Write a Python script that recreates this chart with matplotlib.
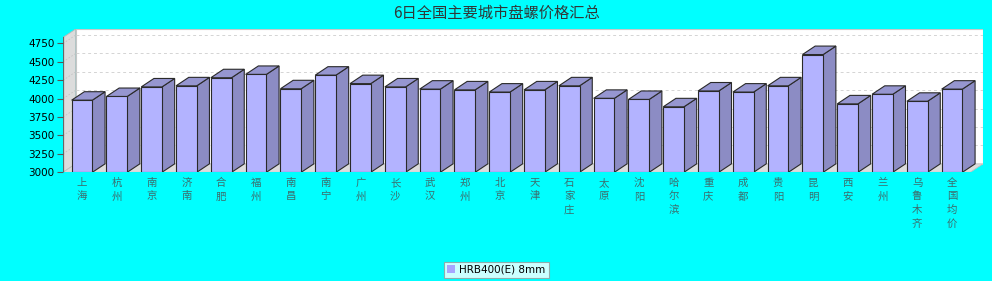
import matplotlib
matplotlib.use("Agg")
import matplotlib.pyplot as plt
import matplotlib.patches as mpatches

plt.rcParams['font.family'] = ['Noto Sans CJK SC', 'DejaVu Sans']

cities = ["上海", "杭州", "南京", "济南", "合肥", "福州", "南昌", "南宁", "广州", "长沙",
          "武汉", "郑州", "北京", "天津", "石家庄", "太原", "沈阳", "哈尔滨", "重庆", "成都",
          "贵阳", "昆明", "西安", "兰州", "乌鲁木齐", "全国均价"]
prices = [3980, 4030, 4160, 4175, 4285, 4330, 4135, 4320, 4205, 4160,
          4130, 4120, 4090, 4120, 4175, 4005, 3990, 3890, 4105, 4090,
          4175, 4600, 3930, 4060, 3965, 4130]
yticks = list(range(3000, 4751, 250))
series_name = "HRB400(E) 8mm"
title = "6日全国主要城市盘螺价格汇总"

W, H = 992, 282
fig = plt.figure(figsize=(W / 100, H / 100), dpi=100, facecolor="#00ffff")

# axes box in pixels (front-left corner to back-right-top)
left_px, right_px, bottom_px, top_px = 63, 983, 172.3, 29
ax = fig.add_axes([left_px / W, 1 - bottom_px / H, (right_px - left_px) / W, (bottom_px - top_px) / H])
ax.patch.set_visible(False)
for s in ax.spines.values():
    s.set_visible(False)

x0, x1 = -0.546, 25.89
y0, y1 = 3000, 4947
dx, dy = 0.365, 115  # 3d depth in data units
ax.set_xlim(x0, x1)
ax.set_ylim(y0, y1)

wall_c = "#dcdcdc"
# back wall
ax.add_patch(mpatches.Rectangle((x0 + dx, y0 + dy), x1 - x0 - dx, y1 - y0 - dy,
                                facecolor="white", edgecolor="#c8c8c8", lw=0.8, zorder=0))
# left wall
ax.add_patch(mpatches.Polygon([(x0, y0), (x0 + dx, y0 + dy), (x0 + dx, y1), (x0, y1 - dy)],
                              closed=True, facecolor=wall_c, edgecolor="#b8b8b8", lw=0.6, zorder=0))
# floor
ax.add_patch(mpatches.Polygon([(x0, y0), (x1 - dx, y0), (x1, y0 + dy), (x0 + dx, y0 + dy)],
                              closed=True, facecolor=wall_c, edgecolor="#c0c0c0", lw=0.6, zorder=0))
for v in yticks[1:]:
    ax.plot([x0 + dx, x1], [v + dy, v + dy], ls=(0, (3, 3)), color="#d4d4d4", lw=0.7, zorder=1)
    ax.plot([x0, x0 + dx], [v, v + dy], ls=(0, (2, 2)), color="#c4c4c4", lw=0.6, zorder=1)
ax.plot([x0, x0], [y0, y1 - dy], color="#666666", lw=0.9, zorder=1)

bw = 0.595
front_c, top_c, side_c, edge_c = "#b3b3ff", "#9696d0", "#8c8cc4", "#2a2a2a"
for i, v in enumerate(prices):
    xl, xr = i - bw / 2, i + bw / 2
    side = [(xr, y0), (xr + dx, y0 + dy), (xr + dx, v + dy), (xr, v)]
    top = [(xl, v), (xl + dx, v + dy), (xr + dx, v + dy), (xr, v)]
    ax.add_patch(mpatches.Polygon(side, closed=True, facecolor=side_c, edgecolor=edge_c, lw=0.8, zorder=2))
    ax.add_patch(mpatches.Polygon(top, closed=True, facecolor=top_c, edgecolor=edge_c, lw=0.8, zorder=2))
ax.bar(range(len(prices)), [v - y0 for v in prices], bottom=y0, width=bw,
       color=front_c, edgecolor=edge_c, lw=0.8, zorder=3)

ax.set_yticks(yticks)
ax.set_yticklabels([str(v) for v in yticks], family="DejaVu Sans")
ax.tick_params(axis="y", length=4, width=0.8, color="#555555", labelsize=7.5, pad=2, labelcolor="black")
ax.set_xticks(range(len(cities)))
ax.set_xticklabels(["\n".join(c) for c in cities], fontsize=7.5, color="#3c6e6e", linespacing=1.45)
ax.tick_params(axis="x", length=0, pad=4)

fig.text(0.5, 1 - 13 / H, title, ha="center", va="center", fontsize=11, color="#303838")

handle = mpatches.Patch(facecolor="#a6a6ff", edgecolor="none", label=series_name)
leg = fig.legend(handles=[handle], loc="center", bbox_to_anchor=(496 / W, 1 - 270 / H),
                 frameon=True, fancybox=False, handlelength=0.8, handleheight=0.8,
                 handletextpad=0.4, borderpad=0.3, borderaxespad=0, prop={"family": "DejaVu Sans", "size": 7.5})
leg.get_frame().set_edgecolor("#999999")
leg.get_frame().set_linewidth(0.8)

fig.patches.append(mpatches.Rectangle((0, 0), 1, 1.5 / H, transform=fig.transFigure,
                                      facecolor="white", edgecolor="none"))

fig.savefig("out.png", dpi=100, facecolor=fig.get_facecolor())
